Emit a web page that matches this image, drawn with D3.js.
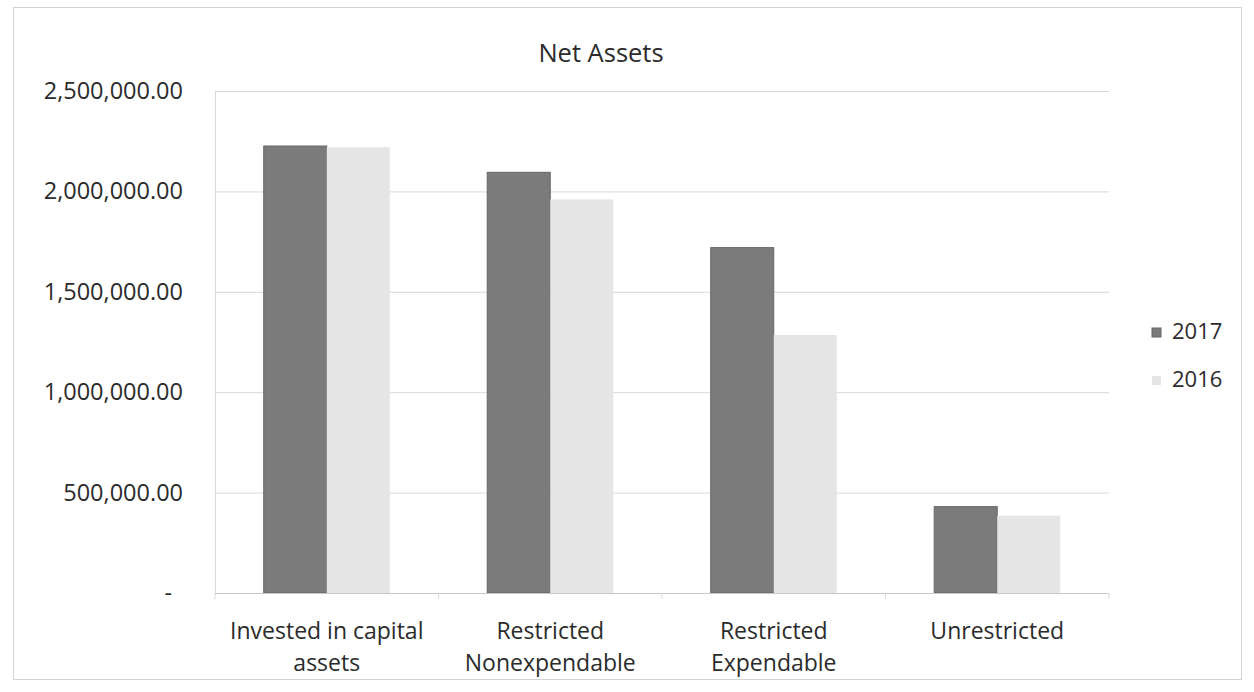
<!DOCTYPE html>
<html>
<head>
<meta charset="utf-8">
<script src="https://cdn.jsdelivr.net/npm/d3@7"></script>
<style>
  body { margin: 0; background: #fff; }
  svg text { font-family: "Open Sans", sans-serif; fill: #2b2b2b; }
</style>
</head>
<body>
<div id="chart"></div>
<script>
// chart data
var categories = [["Invested in capital", "assets"], ["Restricted", "Nonexpendable"], ["Restricted", "Expendable"], ["Unrestricted"]];
var seriesNames = ["2017", "2016"];
var values2017 = [2226000, 2095000, 1720000, 430000];
var values2016 = [2220000, 1960000, 1285000, 385000];
var yTicks = [0, 500000, 1000000, 1500000, 2000000, 2500000];

var width = 1254, height = 692;
var margin = {top: 91, right: 145, bottom: 99, left: 215};
var colors = {"2017": "#7b7b7b", "2016": "#e5e5e5"};

var svg = d3.select("#chart").append("svg")
  .attr("width", width)
  .attr("height", height);

// outer chart frame
svg.append("rect")
  .attr("x", 13.5).attr("y", 7.5)
  .attr("width", 1228).attr("height", 672)
  .attr("fill", "none").attr("stroke", "#d4d4d4");

var x0 = d3.scaleBand()
  .domain(d3.range(categories.length))
  .range([margin.left, width - margin.right])
  .paddingInner(0.436).paddingOuter(0.218);

var x1 = d3.scaleBand().domain(seriesNames).range([0, x0.bandwidth()]);

var y = d3.scaleLinear().domain([0, 2500000]).range([height - margin.bottom, margin.top]);

var fmt = d3.format(",.2f");

// gridlines
svg.append("g").selectAll("line").data(yTicks.slice(1)).enter().append("line")
  .attr("x1", margin.left).attr("x2", width - margin.right)
  .attr("y1", function(d) { return y(d) + 0.5; })
  .attr("y2", function(d) { return y(d) + 0.5; })
  .attr("stroke", "#d9d9d9");

// y axis
var yAxis = d3.axisLeft(y).tickValues(yTicks).tickSize(0).tickPadding(32)
  .tickFormat(function(d) { return d === 0 ? "-" : fmt(d); });
var gy = svg.append("g").attr("transform", "translate(" + margin.left + ",0)").call(yAxis);
gy.select(".domain").attr("stroke", "#d9d9d9");
gy.selectAll("text").attr("font-size", 23.5).style("fill", "#2b2b2b")
  .attr("dx", function(d) { return d === 0 ? -11 : 0; });

// bars
var groups = svg.append("g").selectAll("g").data(categories).enter().append("g")
  .attr("transform", function(d, i) { return "translate(" + x0(i) + ",0)"; });

groups.selectAll("rect")
  .data(function(d, i) { return [{s: "2017", v: values2017[i]}, {s: "2016", v: values2016[i]}]; })
  .enter().append("rect")
  .attr("x", function(d) { return x1(d.s); })
  .attr("width", x1.bandwidth())
  .attr("y", function(d) { return y(d.v); })
  .attr("height", function(d) { return y(0) - y(d.v); })
  .attr("fill", function(d) { return colors[d.s]; })
  .attr("stroke", function(d) { return d.s === "2017" ? "#666" : "none"; })
  .attr("stroke-width", 1);

// x axis line and ticks between categories
svg.append("line")
  .attr("x1", margin.left).attr("x2", width - margin.right)
  .attr("y1", y(0) + 0.5).attr("y2", y(0) + 0.5)
  .attr("stroke", "#c8c8c8");
svg.append("g").selectAll("line").data(d3.range(categories.length + 1)).enter().append("line")
  .attr("x1", function(d) { return margin.left + d * (width - margin.right - margin.left) / categories.length; })
  .attr("x2", function(d) { return margin.left + d * (width - margin.right - margin.left) / categories.length; })
  .attr("y1", y(0)).attr("y2", y(0) + 6)
  .attr("stroke", "#d9d9d9");

// category labels
var labels = svg.append("g").selectAll("text").data(categories).enter().append("text")
  .attr("text-anchor", "middle")
  .attr("font-size", 23)
  .attr("x", function(d, i) { return x0(i) + x0.bandwidth() / 2; })
  .attr("y", 639);
labels.selectAll("tspan").data(function(d) { return d; }).enter().append("tspan")
  .attr("x", function() { return this.parentNode.getAttribute("x"); })
  .attr("dy", function(d, i) { return i === 0 ? 0 : 32; })
  .text(function(d) { return d; });

// title
svg.append("text")
  .attr("x", 601).attr("y", 62)
  .attr("text-anchor", "middle")
  .attr("font-size", 25.5)
  .text("Net Assets");

// legend
var legend = svg.append("g").selectAll("g").data(seriesNames).enter().append("g")
  .attr("transform", function(d, i) { return "translate(1152," + (339 + i * 48) + ")"; });
legend.append("rect")
  .attr("x", 0).attr("y", -11).attr("width", 9).attr("height", 9)
  .attr("fill", function(d) { return colors[d]; })
  .attr("stroke", function(d) { return d === "2017" ? "#666" : "none"; });
legend.append("text")
  .attr("x", 20).attr("y", 0)
  .attr("font-size", 22)
  .text(function(d) { return d; });
</script>
</body>
</html>
